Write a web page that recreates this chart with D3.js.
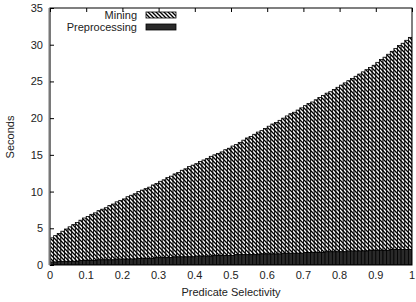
<!DOCTYPE html>
<html><head><meta charset="utf-8">
<script src="https://cdn.jsdelivr.net/npm/d3@7"></script>
<style>body{margin:0;background:#fff}svg{display:block;font-family:"Liberation Sans",Arial,sans-serif}</style>
</head><body><svg id="c" width="416" height="302"></svg>
<script>
const selectivity = d3.range(1, 101).map(k => +(k / 100).toFixed(2));
const preprocessing = [
0.4,0.4,0.5,0.5,0.5,0.5,0.5,0.5,0.6,0.6,
0.6,0.6,0.6,0.7,0.7,0.7,0.7,0.7,0.8,0.8,
0.8,0.8,0.8,0.8,0.9,0.9,0.9,0.9,0.9,1.0,
1.0,1.0,1.0,1.0,1.1,1.1,1.1,1.1,1.1,1.1,
1.2,1.2,1.2,1.2,1.2,1.3,1.3,1.3,1.3,1.3,
1.3,1.4,1.4,1.4,1.4,1.4,1.4,1.4,1.5,1.5,
1.5,1.5,1.5,1.5,1.6,1.6,1.6,1.6,1.6,1.6,
1.7,1.7,1.7,1.7,1.7,1.7,1.8,1.8,1.8,1.8,
1.8,1.8,1.9,1.9,1.9,1.9,1.9,1.9,2.0,2.0,
2.0,2.0,2.0,2.0,2.1,2.1,2.1,2.1,2.1,2.1];
const mining = [
3.3,3.6,3.8,4.1,4.4,4.7,5.0,5.3,5.5,5.8,
6.0,6.3,6.5,6.7,6.9,7.1,7.4,7.6,7.8,8.0,
8.2,8.5,8.7,8.9,9.1,9.3,9.5,9.7,10.0,10.1,
10.4,10.6,10.9,11.1,11.3,11.5,11.8,12.0,12.3,12.5,
12.6,12.9,13.1,13.3,13.6,13.7,13.9,14.1,14.4,14.6,
14.9,15.0,15.3,15.6,15.9,16.1,16.4,16.7,16.8,17.1,
17.4,17.7,17.9,18.2,18.4,18.7,19.0,19.2,19.5,19.8,
20.0,20.3,20.5,20.8,21.1,21.4,21.6,21.8,22.1,22.4,
22.7,23.0,23.2,23.5,23.8,24.1,24.4,24.7,24.9,25.2,
25.6,26.0,26.3,26.7,27.0,27.4,27.8,28.1,28.5,28.9];
const xTicks = [0,0.1,0.2,0.3,0.4,0.5,0.6,0.7,0.8,0.9,1];
const yTicks = [0,5,10,15,20,25,30,35];
const seriesNames = ["Mining","Preprocessing"];

const L=50,R=412,T=8,B=265;
const svg=d3.select("#c");
const x=d3.scaleLinear().domain([0,1]).range([L,R]);
const y=d3.scaleLinear().domain([0,35]).range([B,T]);

const defs=svg.append("defs");
const pat=defs.append("pattern").attr("id","hatch").attr("patternUnits","userSpaceOnUse")
  .attr("width",4).attr("height",4);
pat.append("rect").attr("width",4).attr("height",4).attr("fill","#fff");
pat.append("path").attr("d","M-1,-1L5,5M-1,3L1,5M3,-1L5,1").attr("stroke","#000").attr("stroke-width",1.35);
defs.append("clipPath").attr("id","clip").append("rect").attr("x",L).attr("y",T).attr("width",R-L).attr("height",B-T);

const data=selectivity.map((s,i)=>({s,p:preprocessing[i],m:mining[i]}));
const g=svg.append("g").attr("clip-path","url(#clip)");
const bw=d=>x(d.s)-x(d.s-0.01);
g.selectAll(".m").data(data).join("rect")
  .attr("x",d=>x(d.s-0.01)).attr("width",bw)
  .attr("y",d=>y(d.p+d.m)).attr("height",d=>y(d.p)-y(d.p+d.m))
  .attr("fill","url(#hatch)").attr("stroke","#000").attr("stroke-width",0.8);
g.selectAll(".p").data(data).join("rect")
  .attr("x",d=>x(d.s-0.01)).attr("width",bw)
  .attr("y",d=>y(d.p)).attr("height",d=>B-y(d.p))
  .attr("fill","#2a2a2a").attr("stroke","#000").attr("stroke-width",0.8);

// border
svg.append("rect").attr("x",L).attr("y",T).attr("width",R-L).attr("height",B-T)
  .attr("fill","none").attr("stroke","#000").attr("stroke-width",1);
svg.append("line").attr("x1",L-0.5).attr("x2",L-0.5).attr("y1",T).attr("y2",B)
  .attr("stroke","#777").attr("stroke-width",2);

// y axis
const ya=svg.append("g").attr("transform",`translate(${L},0)`)
  .call(d3.axisRight(y).tickValues(yTicks).tickSize(4).tickFormat(""));
ya.select(".domain").remove();
svg.selectAll(".ylab").data(yTicks).join("text")
  .attr("x",L-7).attr("y",d=>y(d)+4).attr("text-anchor","end")
  .attr("font-size",11).attr("fill","#222").text(d=>d);
// x axis (ticks at top, mirrored)
const xa=svg.append("g").attr("transform",`translate(0,${T})`)
  .call(d3.axisBottom(x).tickValues(xTicks).tickSize(4).tickFormat(""));
xa.select(".domain").remove();
svg.selectAll(".xlab").data(xTicks).join("text")
  .attr("x",d=>x(d)).attr("y",B+14).attr("text-anchor","middle")
  .attr("font-size",11).attr("fill","#222").text(d=>d);

svg.append("text").attr("x",(L+R)/2).attr("y",296).attr("text-anchor","middle")
  .attr("font-size",11).attr("fill","#222").text("Predicate Selectivity");
svg.append("text").attr("transform","translate(14,137) rotate(-90)").attr("text-anchor","middle")
  .attr("font-size",11).attr("fill","#222").text("Seconds");

// legend
const leg=svg.append("g");
seriesNames.forEach((n,i)=>{
  const yy=15+i*12;
  leg.append("text").attr("x",137).attr("y",yy+4).attr("text-anchor","end")
    .attr("font-size",11).attr("fill","#222").text(n);
  leg.append("rect").attr("x",146).attr("y",yy-3).attr("width",30).attr("height",6)
    .attr("fill",i===0?"url(#hatch)":"#2a2a2a").attr("stroke","#000").attr("stroke-width",0.8);
});
</script></body></html>
